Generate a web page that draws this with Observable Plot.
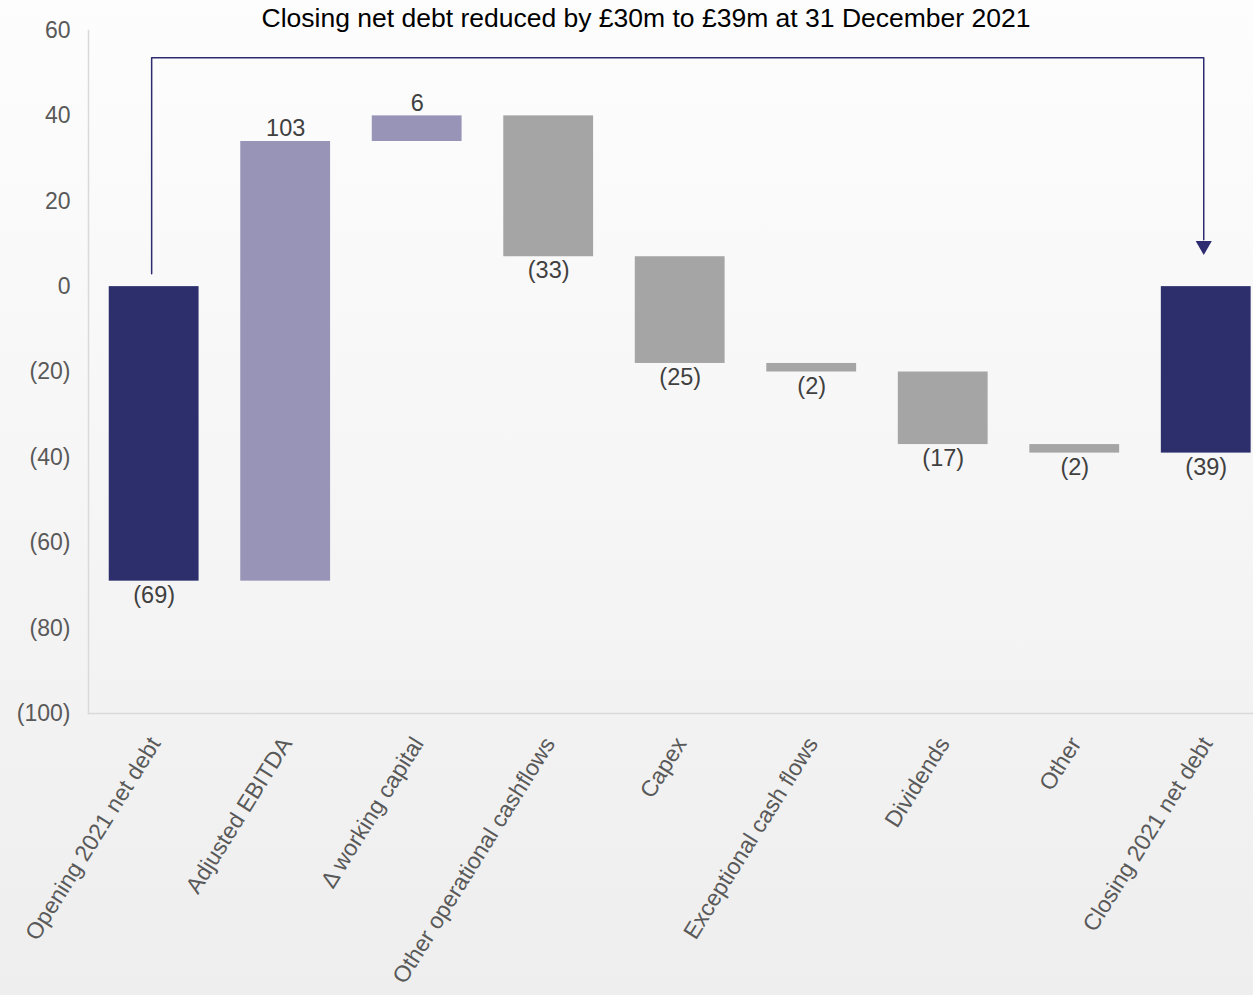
<!DOCTYPE html>
<html><head><meta charset="utf-8">
<script src="https://cdn.jsdelivr.net/npm/d3@7"></script>
<script src="https://cdn.jsdelivr.net/npm/@observablehq/plot@0.6"></script>
<style>
html,body{margin:0;padding:0;overflow:hidden;width:1253px;height:995px;background:linear-gradient(#fdfdfd,#eeeeee);font-family:"Liberation Sans",Arial,sans-serif;}
#wrap{position:relative;width:1253px;height:995px;}
#title{position:absolute;left:0;width:1292px;top:3px;text-align:center;font-size:26.5px;line-height:30px;color:#000;}
#chart{position:absolute;left:0;top:0;}
</style></head><body><div id="wrap"><div id="chart"></div><div id="title">Closing net debt reduced by £30m to £39m at 31 December 2021</div></div>
<script>
const categories = ["Opening 2021 net debt","Adjusted EBITDA","Δ working capital","Other operational cashflows","Capex","Exceptional cash flows","Dividends","Other","Closing 2021 net debt"];
const changes = [-69, 103, 6, -33, -25, -2, -17, -2, -39];
const kinds = ["total","increase","increase","decrease","decrease","decrease","decrease","decrease","total"];
const valueLabels = ["(69)","103","6","(33)","(25)","(2)","(17)","(2)","(39)"];
const yTicks = [-100,-80,-60,-40,-20,0,20,40,60];
const arrowPath = [
  {cat: "Opening 2021 net debt", y: 3},
  {cat: "Opening 2021 net debt", y: 53.6},
  {cat: "Closing 2021 net debt", y: 53.6},
  {cat: "Closing 2021 net debt", y: 11}
];
const arrowHead = [{cat: "Closing 2021 net debt", y: 9.6}];

let run = 0;
const rows = categories.map((c, i) => {
  let y1, y2;
  if (kinds[i] === "total") { y1 = 0; y2 = changes[i]; run = changes[i]; }
  else { y1 = run; y2 = run + changes[i]; run = y2; }
  return {c, y1, y2, kind: kinds[i], label: valueLabels[i], v: changes[i], top: Math.max(y1, y2), bottom: Math.min(y1, y2)};
});

const navy = "#2c2f6b";
const chart = Plot.plot({
  width: 1253, height: 995,
  marginLeft: 88, marginRight: 0, marginTop: 30, marginBottom: 282,
  style: {background: "transparent", fontFamily: "'Liberation Sans', Arial, sans-serif", overflow: "hidden"},
  x: {domain: categories, range: [87.7, 1271.7], paddingInner: 0.317, paddingOuter: 0.16, align: 0.5, round: false, label: null, axis: null},
  y: {domain: [-100, 60], label: null, axis: null},
  color: {domain: ["total","increase","decrease"], range: [navy, "#9894b7", "#a5a5a5"]},
  marks: [
    Plot.frame({anchor: "left", stroke: "#d9d9d9", strokeWidth: 1.5}),
    Plot.frame({anchor: "bottom", stroke: "#d9d9d9", strokeWidth: 1.5}),
    Plot.axisY({ticks: yTicks, tickSize: 0, tickPadding: 18, tickFormat: d => d < 0 ? `(${-d})` : `${d}`, fontSize: 23, color: "#595959", label: null}),
    Plot.axisX({tickSize: 0, tickPadding: 26, tickRotate: -58, fontSize: 23, color: "#595959", label: null, dx: 1}),
    Plot.barY(rows, {x: "c", y1: "y1", y2: "y2", fill: "kind"}),
    Plot.text(rows.filter(d => d.kind === "increase"), {x: "c", y: "top", text: "label", lineAnchor: "bottom", dy: -5, fontSize: 23.5, fill: "#404040"}),
    Plot.text(rows.filter(d => d.kind !== "increase"), {x: "c", y: "bottom", text: "label", lineAnchor: "top", dy: 5, fontSize: 23.5, fill: "#404040"}),
    Plot.line(arrowPath, {x: "cat", y: "y", stroke: "#2e2c70", strokeWidth: 1.5, dx: -2.5}),
    Plot.dot(arrowHead, {x: "cat", y: "y", symbol: "triangle", r: 6, rotate: 180, fill: "#2e2c70", stroke: null, dx: -2.5})
  ]
});
document.getElementById("chart").appendChild(chart);
</script>
</body></html>
